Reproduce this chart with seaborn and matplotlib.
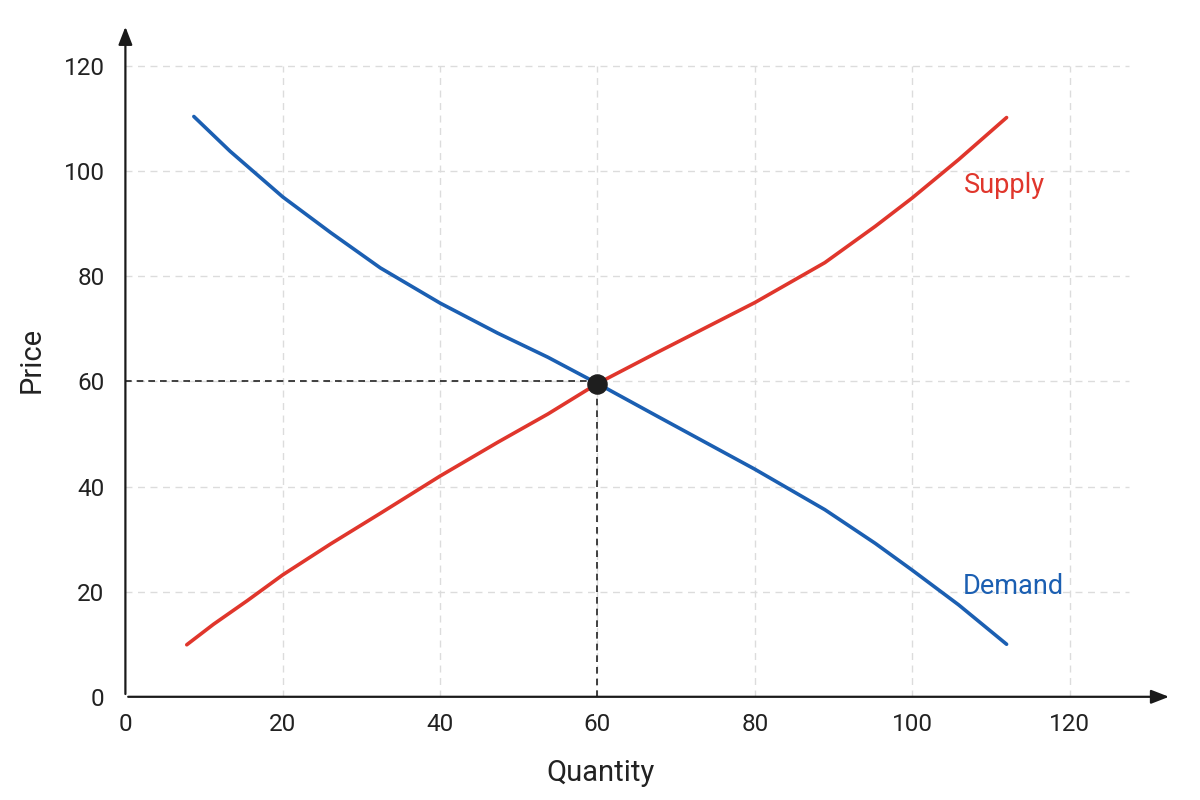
import matplotlib
matplotlib.use("Agg")
import matplotlib.pyplot as plt
import seaborn as sns
import pandas as pd

# values
supply_q = [7.8, 11.2, 15.5, 20, 26.1, 32.4, 40, 47.3, 53.7, 60, 67.7, 80, 88.9, 95.3, 100, 105.9, 112]
supply_p = [9.9, 13.8, 18.3, 23.2, 29.1, 34.9, 42.0, 48.4, 53.8, 59.6, 65.6, 75.0, 82.6, 89.5, 94.9, 102.2, 110.2]
demand_q = [8.7, 13.3, 20, 26.1, 32.4, 40, 47.3, 53.7, 60, 67.7, 80, 88.9, 95.3, 100, 105.9, 112]
demand_p = [110.4, 103.8, 95.1, 88.3, 81.6, 74.9, 69.2, 64.6, 59.6, 53.3, 43.3, 35.6, 29.2, 24.1, 17.5, 10.0]
eq_q, eq_p = 60, 59.6
guide_p = 60
ticks = [0, 20, 40, 60, 80, 100, 120]

red = "#e0362c"
blue = "#1b5fb2"

sns.set_theme(style="white")
plt.rcParams['font.family'] = ['Roboto', 'DejaVu Sans']

df = pd.concat([
    pd.DataFrame({"Quantity": supply_q, "Price": supply_p, "Curve": "Supply"}),
    pd.DataFrame({"Quantity": demand_q, "Price": demand_p, "Curve": "Demand"}),
])

fig = plt.figure(figsize=(12, 8), dpi=100)
ax = fig.add_axes([0.1045, 0.129, 0.872, 0.841])

# grid by hand so it stops short of the arrows
grid_kw = dict(color="#dcdcdc", linestyle=(0, (5, 4)), linewidth=1, zorder=0)
ax.hlines(ticks[1:], 0, 127.5, **grid_kw)
ax.vlines(ticks[1:], 0, 120, **grid_kw)

sns.lineplot(data=df, x="Quantity", y="Price", hue="Curve", sort=False,
             palette={"Supply": red, "Demand": blue}, linewidth=2.6,
             legend=False, ax=ax, zorder=3, solid_joinstyle="round")

# equilibrium guides
ax.plot([0, eq_q], [guide_p, guide_p], color="#222222", linestyle=(0, (4, 3)), linewidth=1.2, zorder=2)
ax.plot([eq_q, eq_q], [0, eq_p], color="#222222", linestyle=(0, (4, 3)), linewidth=1.2, zorder=2)
ax.scatter([eq_q], [eq_p], s=190, color="#1e1e1e", zorder=5)

ax.text(106.6, 97.3, "Supply", color=red, fontsize=19.5, va="center", ha="left")
ax.text(106.4, 20.9, "Demand", color=blue, fontsize=19.5, va="center", ha="left")

ax.set_xlim(0, 133)
ax.set_ylim(0, 128)
ax.set_xticks(ticks)
ax.set_yticks(ticks)
ax.tick_params(axis="x", length=0, pad=12, labelsize=17.5, colors="#222222")
ax.tick_params(axis="y", length=0, pad=15, labelsize=17.5, colors="#222222")
for s in ax.spines.values():
    s.set_visible(False)

# axes with arrow heads
arrow = dict(arrowstyle="-|>,head_length=0.9,head_width=0.35", color="#1a1a1a", lw=1.6)
ax.annotate("", xy=(133, 0), xytext=(0, 0), arrowprops=arrow, annotation_clip=False)
ax.annotate("", xy=(0, 128), xytext=(0, 0), arrowprops=arrow, annotation_clip=False)

# x label sits under the 0-120 range, not the middle of the axes
ax.set_xlabel("Quantity", fontsize=21, color="#222222", labelpad=16, x=0.4545)
ax.set_ylabel("Price", fontsize=21, color="#222222", labelpad=13)

fig.savefig("out.png", dpi=100)
